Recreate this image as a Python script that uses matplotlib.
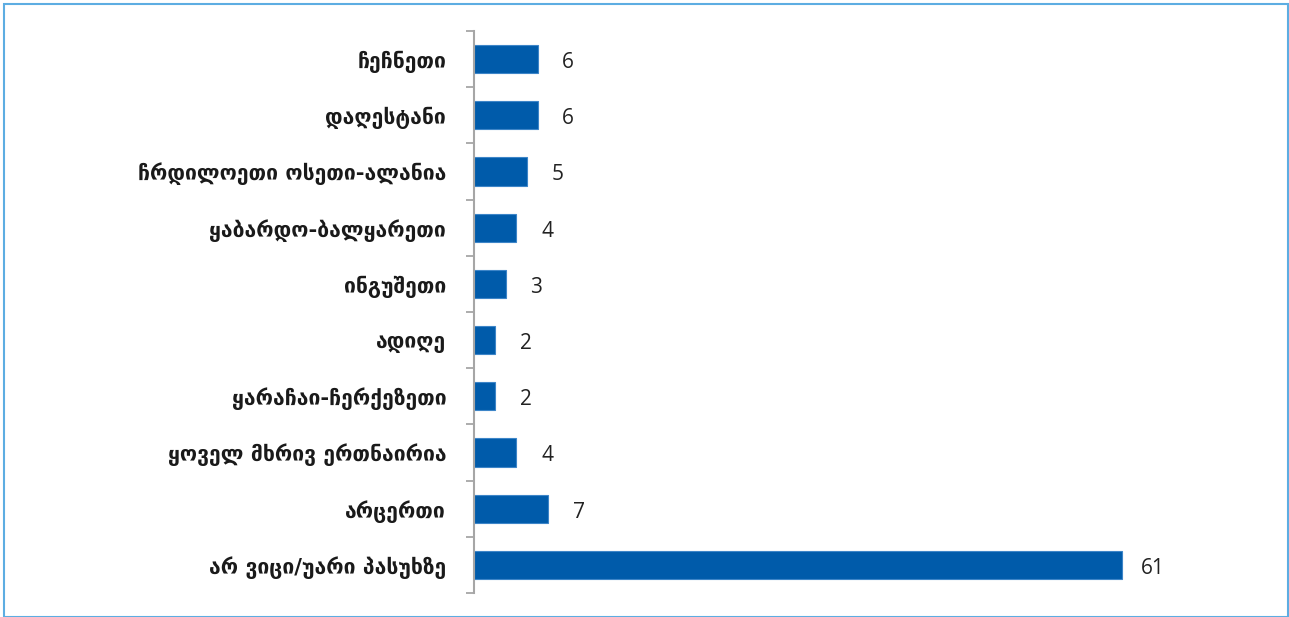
import matplotlib
matplotlib.use('Agg')
import matplotlib.pyplot as plt
from matplotlib.patches import Rectangle
import numpy as np

# data (top to bottom as shown)
categories = [
    'ჩეჩნეთი',
    'დაღესტანი',
    'ჩრდილოეთი ოსეთი-ალანია',
    'ყაბარდო-ბალყარეთი',
    'ინგუშეთი',
    'ადიღე',
    'ყარაჩაი-ჩერქეზეთი',
    'ყოველ მხრივ ერთნაირია',
    'არცერთი',
    'არ ვიცი/უარი პასუხზე',
]
values = [6, 6, 5, 4, 3, 2, 2, 4, 7, 61]

BAR = '#005BAA'
EDGE = '#3D85C8'
SPINE = '#A6A6A6'

fig = plt.figure(figsize=(12.89, 6.17), dpi=100)
fig.patch.set_facecolor('white')
ax = fig.add_axes([474/1289, 24/617, (1240-474)/1289, (595-33)/617])

y = np.arange(len(categories))
bars = ax.barh(y, values, height=0.5, color=BAR, edgecolor=EDGE, linewidth=0.8)
ax.set_ylim(len(categories)-0.5, -0.5)
ax.set_xlim(0, (1240-474)/10.62)

ax.set_yticks(y)
ax.set_yticklabels(categories, fontsize=15.2, fontweight='bold', color='#1a1a1a',
                   family=['DejaVu Sans'])
ax.tick_params(axis='y', which='major', length=0, pad=20)
ax.set_yticks(np.arange(-0.5, len(categories)), minor=True)
ax.tick_params(axis='y', which='minor', length=6, width=1.3, color=SPINE, direction='out')

ax.set_xticks([])
for s in ['top', 'right', 'bottom']:
    ax.spines[s].set_visible(False)
ax.spines['left'].set_color(SPINE)
ax.spines['left'].set_linewidth(1.5)

for b, v in zip(bars, values):
    ax.annotate(str(v), (b.get_width(), b.get_y() + b.get_height()/2),
                xytext=(22, -2.5), textcoords='offset points',
                ha='center', va='center', fontsize=15, color='#222222',
                family=['Open Sans', 'DejaVu Sans'])

# outer frame
fig.patches.append(Rectangle((4/1289, 0.5/617), 1283.5/1289, 612.5/617,
                             transform=fig.transFigure, fill=False,
                             edgecolor='#5DADE2', linewidth=1.5))

fig.savefig('out.png', dpi=100, facecolor='white')
